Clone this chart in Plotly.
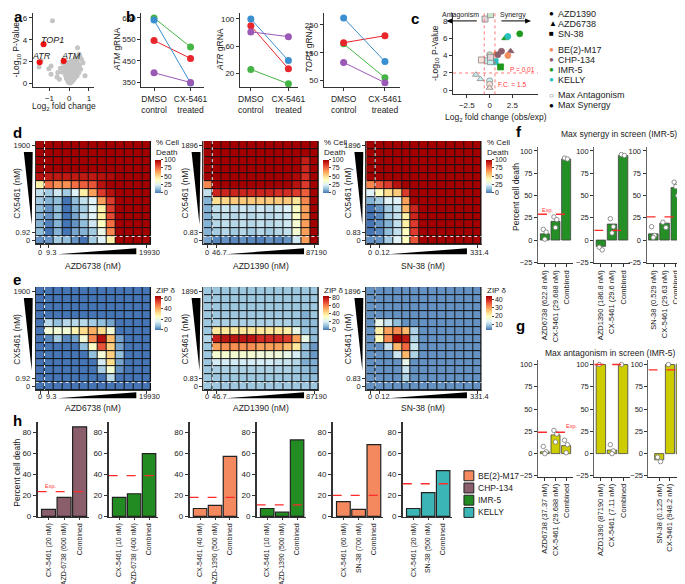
import plotly.graph_objects as go

W, H = 685, 584
FONT = "Liberation Sans, Arial, Helvetica, sans-serif"
TXT = "#222222"

# ======================= DATA =======================
# --- a: CRISPR screen volcano
a_grey_x = [-0.85, -1.42, -0.92, -1.03, -1.53, -0.92, 0.42, 0.50, 0.80, -0.58, -0.50, 0.55, 0.62, 0.70, -0.62, -0.45, 0.32,
            -0.32, -0.21, -0.12, -0.05, 0.03, 0.11, 0.18, 0.26, 0.34, 0.41, 0.47, 0.52,
            -0.28, -0.18, -0.08, 0.02, 0.09, 0.16, 0.24, 0.31, 0.38, 0.44, 0.58,
            -0.36, -0.24, -0.15, -0.02, 0.07, 0.14, 0.22, 0.29, 0.36, 0.49,
            -0.19, -0.10, 0.00, 0.06, 0.13, 0.20, 0.27, 0.33, 0.40,
            -0.14, -0.06, 0.04, 0.10, 0.17, 0.25, 0.30,
            -0.08, 0.01, 0.08, 0.15, 0.21,
            -0.03, 0.05, 0.12]
a_grey_y = [5.75, 2.1, 1.6, 1.36, 1.5, 0.85, 3.27, 2.67, 0.7, 1.0, 0.4, 2.45, 2.2, 1.9, 0.6, 1.4, 2.3,
            1.85, 2.0, 1.75, 1.95, 1.8, 2.05, 1.9, 2.1, 2.0, 2.2, 2.35, 1.7,
            1.45, 1.5, 1.3, 1.55, 1.4, 1.6, 1.5, 1.65, 1.55, 1.8, 1.3,
            1.05, 1.15, 0.95, 1.1, 1.2, 1.0, 1.25, 1.1, 1.3, 1.0,
            0.75, 0.8, 0.7, 0.85, 0.65, 0.9, 0.8, 0.95, 0.7,
            0.45, 0.5, 0.55, 0.4, 0.6, 0.5, 0.55,
            0.25, 0.3, 0.2, 0.35, 0.3,
            0.1, 0.05, 0.15]
a_hit_names = ["TOP1", "ATR", "ATM"]
a_hit_x = [-1.3, -1.5, -0.28]
a_hit_y = [3.6, 1.95, 2.05]

# --- b: gRNA counts (DMSO control -> CX-5461 treated)
b_groups = ["DMSO<br>control", "CX-5461<br>treated"]
atm_green, atm_red, atm_blue, atm_purple = [650, 515], [545, 462], [640, 348], [395, 350]
atr_green, atr_red, atr_blue, atr_purple = [26, 5], [90, 27], [100, 39], [81, 74]
top1_green, top1_red, top1_blue, top1_purple = [182, 60], [186, 211], [275, 118], [115, 42]

# --- c: synergy volcano
c_x = [3.3, 1.7, 2.0, 0.6, 0.9, 1.3, 2.3, 2.0, 0.6, 1.2,
       -0.5, 0.1, 0.0, -0.9, -0.2, 0.1, 0.1, -1.5, -1.0, 0.0, 0.0, 0.0]
c_y = [6.5, 6.0, 6.2, 4.2, 4.1, 4.5, 4.5, 4.0, 3.3, 2.7,
       8.2, 8.7, 4.1, 3.5, 3.4, 3.3, 3.8, 1.8, 1.3, 1.1, 0.7, 0.3]
c_drug = ["AZD1390", "AZD6738", "AZD1390", "AZD6738", "AZD1390", "AZD1390", "AZD6738", "AZD1390", "SN-38", "SN-38",
          "SN-38", "SN-38", "AZD1390", "SN-38", "SN-38", "SN-38", "SN-38", "AZD6738", "AZD6738", "AZD1390", "AZD1390", "AZD6738"]
c_cell = ["IMR-5", "IMR-5", "KELLY", "BE(2)-M17", "CHP-134", "CHP-134", "CHP-134", "BE(2)-M17", "KELLY", "IMR-5",
          "CHP-134", "IMR-5", "IMR-5", "BE(2)-M17", "KELLY", "KELLY", "CHP-134", "KELLY", "KELLY", "KELLY", "BE(2)-M17", "BE(2)-M17"]
c_type = ["syn"] * 10 + ["ant"] * 12

# --- d: % cell death matrices (rows: top = highest CX5461 dose)
d_azd6738 = [
    [100] * 13, [100] * 13, [100] * 13, [100] * 13,
    [95, 93, 93, 93, 93, 93, 93, 95, 97, 100, 100, 100, 100],
    [45, 75, 68, 68, 75, 78, 80, 95, 100, 100, 100, 100, 100],
    [20, 15, 22, 15, 25, 45, 65, 85, 95, 100, 100, 100, 100],
    [15, 10, 12, 0, 12, 20, 25, 65, 85, 100, 100, 100, 100],
    [12, 5, 12, 0, 10, 15, 25, 45, 85, 100, 100, 100, 100],
    [10, 5, 12, 0, 8, 18, 25, 45, 82, 100, 100, 100, 100],
    [10, 2, 10, 0, 5, 12, 22, 40, 75, 100, 100, 100, 100],
    [12, 0, 10, 0, 8, 10, 15, 30, 70, 100, 100, 100, 100],
    [5, 5, 15, 12, 5, 0, 15, 25, 45, 100, 100, 100, 100]]
d_azd1390 = [
    [100] * 13, [100] * 13,
    [100, 100, 100, 100, 100, 100, 100, 100, 100, 100, 100, 92, 100],
    [100, 100, 100, 100, 100, 100, 100, 100, 100, 100, 100, 90, 100],
    [100, 100, 100, 100, 100, 100, 100, 100, 100, 100, 98, 88, 100],
    [70, 100, 100, 100, 100, 100, 100, 100, 100, 100, 95, 85, 100],
    [20, 90, 90, 90, 90, 90, 90, 90, 88, 88, 85, 78, 100],
    [10, 50, 52, 55, 55, 55, 55, 55, 55, 55, 48, 70, 100],
    [10, 20, 22, 20, 22, 20, 22, 20, 22, 25, 38, 65, 100],
    [10, 18, 20, 18, 20, 18, 20, 18, 20, 22, 38, 65, 100],
    [10, 18, 20, 18, 20, 18, 20, 18, 20, 22, 35, 65, 100],
    [10, 15, 18, 15, 18, 15, 18, 15, 18, 20, 35, 65, 100],
    [8, 3, 5, 3, 5, 3, 2, 5, 3, 5, 22, 65, 100]]
d_sn38 = [
    [100] * 13, [100] * 13, [100] * 13, [100] * 13, [100] * 13,
    [70, 80, 85, 95, 100, 100, 100, 100, 100, 100, 100, 100, 100],
    [25, 40, 50, 55, 85, 100, 100, 100, 100, 100, 100, 100, 100],
    [10, 15, 25, 25, 65, 100, 100, 100, 100, 100, 100, 100, 100],
    [0, 5, 15, 20, 60, 90, 100, 100, 100, 100, 100, 100, 100],
    [0, 3, 15, 20, 45, 90, 100, 100, 100, 100, 100, 100, 100],
    [0, 5, 10, 20, 45, 85, 100, 100, 100, 100, 100, 100, 100],
    [0, 3, 12, 20, 40, 85, 100, 100, 100, 100, 100, 100, 100],
    [5, 5, 15, 25, 40, 80, 100, 100, 100, 100, 100, 100, 100]]

# --- e: ZIP synergy matrices
e_azd6738 = [
    [0] * 13, [0] * 13, [0] * 13, [0] * 13,
    [0, 12, 8, 12, 12, 12, 10, 8, 5, 0, 0, 0, 0],
    [0, 22, 22, 22, 28, 33, 40, 33, 22, 0, 0, 0, 0],
    [0, 2, 10, 2, 5, 22, 45, 62, 38, 5, 0, 0, 0],
    [0, 0, 0, 0, 0, 8, 25, 52, 35, 5, 0, 0, 0],
    [0, 0, 0, 0, 0, 0, 8, 22, 35, 8, 0, 0, 0],
    [0, 0, 0, 0, 0, 0, 0, 15, 33, 5, 0, 0, 0],
    [0, 0, 0, 0, 0, 0, 0, 10, 22, 3, 0, 0, 0],
    [0, 0, 0, 0, 0, 0, 0, 0, 12, 0, 0, 0, 0],
    [0] * 13]
e_azd1390 = [
    [12] * 13, [12] * 13, [12] * 13,
    [12, 12, 12, 12, 12, 12, 12, 12, 12, 12, 12, 8, 12],
    [12, 14, 14, 14, 14, 14, 14, 14, 14, 14, 12, 10, 10],
    [12, 40, 40, 40, 40, 40, 40, 40, 40, 38, 25, 12, 10],
    [15, 78, 80, 80, 80, 80, 75, 75, 75, 72, 55, 25, 10],
    [12, 55, 58, 58, 58, 58, 55, 55, 55, 50, 40, 12, 5],
    [12, 30, 30, 30, 30, 30, 28, 28, 28, 25, 20, 10, 5],
    [12, 20, 20, 20, 20, 20, 20, 20, 18, 18, 15, 8, 8],
    [12, 14, 14, 14, 14, 14, 14, 14, 14, 14, 12, 10, 8],
    [12, 12, 12, 12, 12, 12, 12, 12, 12, 12, 12, 10, 10],
    [12] * 13]
e_sn38 = [
    [5] * 13, [5] * 13, [5] * 13, [5] * 13,
    [5, 15, 12, 8, 5, 5, 5, 5, 5, 5, 5, 5, 5],
    [5, 22, 30, 32, 28, 10, 5, 5, 5, 5, 5, 5, 5],
    [5, 20, 32, 45, 42, 10, 5, 5, 5, 5, 5, 5, 5],
    [5, 5, 12, 28, 35, 12, 5, 5, 5, 5, 5, 5, 5],
    [5, 5, 5, 12, 28, 10, 5, 5, 5, 5, 5, 5, 5],
    [5, 5, 5, 5, 15, 5, 5, 5, 5, 5, 5, 5, 5],
    [5, 5, 5, 5, 12, 5, 5, 5, 5, 5, 5, 5, 5],
    [5, 5, 5, 5, 10, 5, 5, 5, 5, 5, 5, 5, 5],
    [5] * 13]

hm_drugs = ["AZD6738 (nM)", "AZD1390 (nM)", "SN-38 (nM)"]
hm_xticks = [["0", "9.3", "19930"], ["0", "46.7", "87190"], ["0", "0.12", "331.4"]]
hm_yticks = [["1900", "0.92", "0"], ["1896", "0.83", "0"], ["1896", "0.83", "0"]]

# --- f: max synergy (IMR-5)
f_labels = [["AZD6738 (622.8 nM)", "CX-5461 (29.688 nM)", "Combined"],
            ["AZD1390 (186.8 nM)", "CX-5461 (29.6 nM)", "Combined"],
            ["SN-38 (0.529 nM)", "CX-5461 (29.63 nM)", "Combined"]]
f_means = [[7, 21, 91], [-7, 18, 95], [7, 19, 59]]
f_exp = [29, 11, 26]
f_reps = [[[12, 9, 1], [26, 23, 14], [92, 91]],
          [[-8, -11], [24, 15, 8], [96, 95]],
          [[15, 5, 3], [20, 14], [65, 62, 60, 50]]]

# --- g: max antagonism (IMR-5)
g_labels = [["AZD6738 (37.37 nM)", "CX-5461 (29.688 nM)", "Combined"],
            ["AZD1390 (87190 nM)", "CX-5461 (7.11 nM)", "Combined"],
            ["SN-38 (0.125 nM)", "CX-5461 (948.2 nM)", "Combined"]]
g_means = [[2, 21, 9], [100, 4, 100], [-7, 100, 100]]
g_exp = [24, 100, 94]
g_reps = [[[8, 2, 0], [26, 22, 13], [15, 10, 1]],
          [[100], [10, 3, 0], [100]],
          [[-4, -9], [100], [100]]]

# --- h: validation
h_labels = [["CX-5461 (20 nM)", "AZD-6738 (600 nM)", "Combined"],
            ["CX-5461 (10 nM)", "AZD-6738 (400 nM)", "Combined"],
            ["CX-5461 (40 nM)", "AZD-1390 (500 nM)", "Combined"],
            ["CX-5461 (10 nM)", "AZD-1390 (500 nM)", "Combined"],
            ["CX-5461 (60 nM)", "SN-38 (700 nM)", "Combined"],
            ["CX-5461 (20 nM)", "SN-38 (500 nM)", "Combined"]]
h_vals = [[6.6, 18, 85], [18, 21.5, 59.5], [7.5, 10.5, 57], [7.5, 4, 72.5], [14, 6.6, 68], [7.5, 22.6, 43.4]]
h_exp = [23.5, 38.6, 18, 11, 20, 31]
h_cells = ["CHP-134", "IMR-5", "BE(2)-M17", "IMR-5", "BE(2)-M17", "KELLY"]
legend_cells = ["BE(2)-M17", "CHP-134", "IMR-5", "KELLY"]

# ======================= STYLE =======================
CELL_COL = {"BE(2)-M17": "#f4895f", "CHP-134": "#8b5e6b", "IMR-5": "#228b22", "KELLY": "#3bb5b5"}
C_COL = {"BE(2)-M17": "#f28e5b", "CHP-134": "#8b5e6b", "IMR-5": "#1f9a1f", "KELLY": "#2bbfbf"}
DRUG_SYM = {"AZD1390": "circle", "AZD6738": "triangle-up", "SN-38": "square"}
B_COL = {"green": "#44b544", "red": "#e8262b", "blue": "#3a8fd0", "purple": "#9b59b6"}
CS = [[0, "#4575b4"], [0.12, "#91bfdb"], [0.25, "#e0f3f8"], [0.4, "#ffffbf"], [0.5, "#fee090"],
      [0.62, "#fdae61"], [0.75, "#f46d43"], [0.87, "#d73027"], [1, "#a50000"]]


def lighten(hexc, f=0.7):
    r, g, b = int(hexc[1:3], 16), int(hexc[3:5], 16), int(hexc[5:7], 16)
    return "rgb(%d,%d,%d)" % (r + (255 - r) * f, g + (255 - g) * f, b + (255 - b) * f)


fig = go.Figure()
axes_layout = {}
shapes = []
annots = []
n_ax = [0]


def new_axes(px0, px1, py0, py1, xkw, ykw):
    n_ax[0] += 1
    s = "" if n_ax[0] == 1 else str(n_ax[0])
    base = dict(showgrid=False, zeroline=False, ticks="outside", ticklen=3, tickwidth=1,
                tickcolor="#333", linecolor="#333", linewidth=1,
                tickfont=dict(size=8, color=TXT, family=FONT))
    xa = dict(base)
    xa.update(domain=[px0 / W, px1 / W], anchor="y" + s)
    xa.update(xkw)
    ya = dict(base)
    ya.update(domain=[1 - py1 / H, 1 - py0 / H], anchor="x" + s)
    ya.update(ykw)
    axes_layout["xaxis" + s] = xa
    axes_layout["yaxis" + s] = ya
    return "x" + s, "y" + s


def ann(px, py, text, size=8, xa="center", ya="middle", angle=0, color=TXT, **kw):
    annots.append(dict(x=px / W, y=1 - py / H, xref="paper", yref="paper", text=text, showarrow=False,
                       xanchor=xa, yanchor=ya, textangle=angle,
                       font=dict(size=size, color=color, family=FONT), **kw))


def ppath(pts):
    return "M " + " L ".join("%f,%f" % (x / W, 1 - y / H) for x, y in pts) + " Z"


def pline(x0, y0, x1, y1, color="#000", width=1, dash="solid"):
    shapes.append(dict(type="line", xref="paper", yref="paper", x0=x0 / W, x1=x1 / W,
                       y0=1 - y0 / H, y1=1 - y1 / H, line=dict(color=color, width=width, dash=dash)))


# panel letters
for L, px, py in [("a", 2, 9), ("b", 116, 9), ("c", 404, 11), ("d", 1, 125), ("e", 1, 273),
                  ("f", 511, 124), ("g", 511, 320), ("h", 1, 415)]:
    ann(px, py, "<b>%s</b>" % L, size=15, xa="left", color="#000")

# ---------------- a ----------------
xa_, ya_ = new_axes(23, 85, 5, 80, dict(range=[-1.85, 1.25], showline=True, tickvals=[-1, 0, 1]),
                    dict(range=[-0.36, 6.45], showline=True, tickvals=[0, 2, 4, 6]))
fig.add_trace(go.Scatter(x=a_grey_x, y=a_grey_y, mode="markers", xaxis=xa_, yaxis=ya_,
                         marker=dict(size=5, color="#c4c4c4"), showlegend=False))
fig.add_trace(go.Scatter(x=a_hit_x, y=a_hit_y, mode="markers", xaxis=xa_, yaxis=ya_,
                         marker=dict(size=6, color="#ee1111"), showlegend=False))
for nm, hx, hy, dx, dy in zip(a_hit_names, a_hit_x, a_hit_y, [0.45, 0.08, 0.36], [0.4, 0.6, 0.5]):
    annots.append(dict(x=hx + dx, y=hy + dy, xref=xa_, yref=ya_, text="<i>%s</i>" % nm, showarrow=False,
                       font=dict(size=9, color=TXT, family=FONT)))
ann(7, 42, "-Log<sub>10</sub> P-Value", size=8.5, angle=-90)
ann(55, 99, "Log<sub>2</sub> fold change", size=8.5)

# ---------------- b ----------------
b_panels = [
    ((133, 197), [-0.35, 1.38], [327, 673], [350, 450, 550, 650],
     [("green", atm_green), ("red", atm_red), ("blue", atm_blue), ("purple", atm_purple)], "<i>ATM</i> gRNA", 108),
    ((233, 292), [-0.29, 1.26], [-0.4, 108.7], [20, 60, 100],
     [("green", atr_green), ("red", atr_red), ("blue", atr_blue), ("purple", atr_purple)], "<i>ATR</i> gRNA", 213),
    ((318, 395), [-0.48, 1.36], [25, 293], [50, 150, 250],
     [("green", top1_green), ("red", top1_red), ("blue", top1_blue), ("purple", top1_purple)], "<i>TOP1</i> gRNA", 303),
]
for (px0, px1), xr, yr, yt, series, title, tx in b_panels:
    xa_, ya_ = new_axes(px0, px1, 5, 80,
                        dict(range=xr, showline=True, tickvals=[0, 1], ticktext=b_groups, tickangle=0,
                             tickfont=dict(size=8.5, color=TXT, family=FONT)),
                        dict(range=yr, showline=True, tickvals=yt))
    for cname, vals in series:
        fig.add_trace(go.Scatter(x=[0, 1], y=vals, mode="lines+markers", xaxis=xa_, yaxis=ya_,
                                 line=dict(color=B_COL[cname], width=1),
                                 marker=dict(size=7, color=B_COL[cname]), showlegend=False))
    ann(tx, 42, title, size=8.5, angle=-90)

# ---------------- c ----------------
xa_, ya_ = new_axes(449, 535, 5, 87, dict(range=[-4.0, 5.3], showline=True, tickvals=[-2.5, 0, 2.5]),
                    dict(range=[-0.46, 8.9], showline=True, tickvals=[0, 2, 4, 6, 8]))
for xv in [-0.585, 0.585]:
    shapes.append(dict(type="line", xref=xa_, yref=ya_, x0=xv, x1=xv, y0=-0.46, y1=8.9,
                       line=dict(color="#ff5555", width=0.8, dash="dot")))
shapes.append(dict(type="line", xref=xa_, yref=ya_, x0=-4.0, x1=5.3, y0=2, y1=2,
                   line=dict(color="#ff5555", width=0.8, dash="dot")))
fill = [C_COL[c] if t == "syn" else lighten(C_COL[c], 0.75) for c, t in zip(c_cell, c_type)]
edge = [C_COL[c] if t == "syn" else "#888888" for c, t in zip(c_cell, c_type)]
fig.add_trace(go.Scatter(x=c_x, y=c_y, mode="markers", xaxis=xa_, yaxis=ya_, showlegend=False,
                         marker=dict(size=6, symbol=[DRUG_SYM[d] for d in c_drug], color=fill,
                                     line=dict(color=edge, width=0.8))))
ann(431, 45, "-Log<sub>10</sub> P-Value", size=8.5, angle=-90)
ann(492, 110, "Log<sub>2</sub> fold change (obs/exp)", size=8.5)
ann(457, 7, "Antagonism", size=7)
ann(510, 7, "Synergy", size=7)
# arrows
pline(447, 13, 473, 13)
shapes.append(dict(type="path", xref="paper", yref="paper", path=ppath([(442, 13), (448, 10.5), (448, 15.5)]),
                   fillcolor="#000", line=dict(width=0)))
pline(498, 13, 523, 13)
shapes.append(dict(type="path", xref="paper", yref="paper", path=ppath([(528, 13), (522, 10.5), (522, 15.5)]),
                   fillcolor="#000", line=dict(width=0)))
ann(534, 62, "P = 0.01", size=6.5, xa="right", color="#ff3333")
ann(492, 77, "F.C. = 1.5", size=6.5, xa="left", color="#ff3333")
leg_c = [("●", "#000", "AZD1390", 6), ("▲", "#000", "AZD6738", 16), ("■", "#000", "SN-38", 26),
         ("●", C_COL["BE(2)-M17"], "BE(2)-M17", 42), ("●", C_COL["CHP-134"], "CHP-134", 52),
         ("●", C_COL["IMR-5"], "IMR-5", 62), ("●", C_COL["KELLY"], "KELLY", 72),
         ("○", "#555", "Max Antagonism", 88), ("●", "#000", "Max Synergy", 98)]
for sym, col, lab, py in leg_c:
    ann(544, py, '<span style="color:%s">%s</span>' % (col, sym), size=8, xa="left")
    ann(553, py, lab, size=9, xa="left")

# ---------------- d / e heatmaps ----------------
hm_x0 = [26, 196, 361]
d_mats = [d_azd6738, d_azd1390, d_sn38]
e_mats = [e_azd6738, e_azd1390, e_sn38]
e_ranges = [(0, 65, [0, 20, 40, 60]), (0, 85, [0, 20, 40, 60, 80]), (3, 45, [10, 20, 30, 40])]
xlab_off = [4, 16, 115]   # pixel offsets of x tick labels from heatmap left edge
for block, (top, bot, cb_t, cb_b, title_off, wy, cbtitle, cbty, tly) in enumerate(
        [(134, 238, 153, 186, 22, 10, "% Cell<br>Death", 129, 246),
         (281, 385, 290, 324, 18, 8, "ZIP δ", 278, 391)]):
    for i in range(3):
        hx0 = hm_x0[i]
        hx1 = hx0 + 117
        xa_, ya_ = new_axes(hx0, hx1, top, bot,
                            dict(range=[-0.5, 12.5], tickvals=[0, 1, 12], ticktext=["", "", ""], ticklen=3),
                            dict(range=[12.5, -0.5], tickvals=[0, 11, 12], ticktext=hm_yticks[i], ticklen=3,
                                 tickangle=0, tickfont=dict(size=7.5, color=TXT, family=FONT)))
        for lab, off in zip(hm_xticks[i], xlab_off):
            ann(hx0 + off, tly, lab, size=7.5)
        if block == 0:
            z = d_mats[i]
            zmin, zmax, tv = 0, 100, [0, 25, 50, 75, 100]
        else:
            z = e_mats[i]
            zmin, zmax, tv = e_ranges[i]
        shapes.append(dict(type="rect", xref=xa_, yref=ya_, x0=-0.5, x1=12.5, y0=-0.5, y1=12.5,
                           fillcolor="#111", line=dict(width=0), layer="below"))
        fig.add_trace(go.Heatmap(z=z, x=list(range(13)), y=list(range(13)), xaxis=xa_, yaxis=ya_,
                                 colorscale=CS, zmin=zmin, zmax=zmax, xgap=1, ygap=1,
                                 colorbar=dict(x=(hx1 + 4) / W, xanchor="left", y=1 - cb_b / H, yanchor="bottom",
                                               len=(cb_b - cb_t) / H, lenmode="fraction", thickness=6,
                                               outlinewidth=0, xpad=0, ypad=0, tickvals=tv, ticks="outside",
                                               ticklen=2, tickfont=dict(size=7, color=TXT, family=FONT))))
        ann(hx1 + 3, cbty, cbtitle, size=8, xa="left", ya="top", align="left")
        for (x0, x1, y0, y1) in [(0.5, 0.5, -0.5, 12.5), (-0.5, 12.5, 11.5, 11.5)]:
            shapes.append(dict(type="line", xref=xa_, yref=ya_, x0=x0, x1=x1, y0=y0, y1=y1,
                               line=dict(color="#eeeeee", width=1, dash="dot")))
        # dose wedges
        shapes.append(dict(type="path", xref="paper", yref="paper",
                           path=ppath([(hx0 + 22, bot + wy), (hx0 + 102, bot + wy), (hx0 + 102, bot + wy - 6)]),
                           fillcolor="#000", line=dict(width=0)))
        shapes.append(dict(type="path", xref="paper", yref="paper",
                           path=ppath([(hx0 - 12, top + 11), (hx0 - 3, top + 11), (hx0 - 4, top + 84)]),
                           fillcolor="#000", line=dict(width=0)))
        ann(hx0 + 58, bot + title_off, hm_drugs[i], size=8.5)
        ann(hx0 - 19, (top + bot) / 2, "CX5461 (nM)", size=8.5, angle=-90)

# ---------------- f / g bars ----------------
jit = [-0.15, 0.12, 0.0, 0.18]
fg_x = [(535, 570, [-0.65, 2.6]), (592, 628, [-0.6, 2.6]), (645, 685, [-0.6, 2.9])]
g_x = [(535, 570, [-0.65, 2.6]), (592, 628, [-0.6, 2.6]), (647, 685, [-1.0, 2.5])]
for block, (labels, means, exps, reps, color, py0, py1, xs) in enumerate([
        (f_labels, f_means, f_exp, f_reps, "#248f24", 139.5, 257, fg_x),
        (g_labels, g_means, g_exp, g_reps, "#cccc00", 354.5, 472, g_x)]):
    for i in range(3):
        px0, px1, xr = xs[i]
        xa_, ya_ = new_axes(px0, px1, py0, py1,
                            dict(range=xr, tickvals=[0, 1, 2], ticktext=labels[i], tickangle=-90,
                                 ticklen=3, tickfont=dict(size=7.5, color=TXT, family=FONT)),
                            dict(range=[-26, 105], showline=True, linecolor="#666", tickvals=[-25, 0, 25, 50, 75, 100],
                                 tickfont=dict(size=7.5, color=TXT, family=FONT)))
        fig.add_trace(go.Bar(x=[0, 1, 2], y=means[i], width=0.85, xaxis=xa_, yaxis=ya_, showlegend=False,
                             marker=dict(color=color, line=dict(color="#444", width=0.8))))
        dx, dy = [], []
        for k, vals in enumerate(reps[i]):
            for j, v in enumerate(vals):
                dx.append(k + jit[j % 4])
                dy.append(v)
        fig.add_trace(go.Scatter(x=dx, y=dy, mode="markers", xaxis=xa_, yaxis=ya_, showlegend=False,
                                 marker=dict(size=4.5, color="white", line=dict(color="#777", width=0.8))))
        shapes.append(dict(type="line", xref=xa_, yref=ya_, x0=xr[0], x1=xr[1], y0=exps[i], y1=exps[i],
                           line=dict(color="#ff2a2a", width=1.3, dash="dash")))
ann(617, 127, "Max synergy in screen (IMR-5)", size=8.5)
ann(608, 347, "Max antagonism in screen (IMR-5)", size=8.5)
ann(512, 190, "Percent cell death", size=8.5, angle=-90)
ann(537, 203, "Exp.", size=5.5, xa="left", color="#ff3333")
ann(561, 421, "Exp.", size=5.5, xa="left", color="#ff3333")

# ---------------- h bars ----------------
h_x = [(28, 80), (100, 150), (182, 232), (250, 300), (327, 378), (398, 448)]
for i in range(6):
    px0, px1 = h_x[i]
    xa_, ya_ = new_axes(px0, px1, 417, 513,
                        dict(range=[-0.7, 2.6], tickvals=[0, 1, 2], ticktext=h_labels[i], tickangle=-90,
                             ticklen=2, tickfont=dict(size=7, color=TXT, family=FONT)),
                        dict(range=[-1, 89.4], showline=True, linewidth=1.5, linecolor="#333",
                             tickvals=[0, 20, 40, 60, 80]))
    fig.add_trace(go.Bar(x=[0, 1, 2], y=h_vals[i], width=0.9, xaxis=xa_, yaxis=ya_, showlegend=False,
                         marker=dict(color=CELL_COL[h_cells[i]], line=dict(color="#222", width=1.2))))
    shapes.append(dict(type="line", xref=xa_, yref=ya_, x0=-0.7, x1=2.6, y0=h_exp[i], y1=h_exp[i],
                       line=dict(color="#ff2a2a", width=1.3, dash="dash")))
ann(7, 468, "Percent cell death", size=8.5, angle=-90)
ann(33, 481, "Exp.", size=5.5, xa="left", color="#ff3333")
for k, cname in enumerate(legend_cells):
    cy = 471 + k * 12.3
    shapes.append(dict(type="rect", xref="paper", yref="paper", x0=460 / W, x1=470 / W,
                       y0=1 - (cy + 5) / H, y1=1 - (cy - 5) / H, fillcolor=CELL_COL[cname],
                       line=dict(color="#222", width=1)))
    ann(472, cy, cname, size=8.5, xa="left")

fig.update_layout(width=W, height=H, margin=dict(l=0, r=0, t=0, b=0),
                  paper_bgcolor="white", plot_bgcolor="white", showlegend=False,
                  font=dict(family=FONT, size=8, color=TXT),
                  shapes=shapes, annotations=annots, bargap=0.1, **axes_layout)
fig.write_html("out.html")
